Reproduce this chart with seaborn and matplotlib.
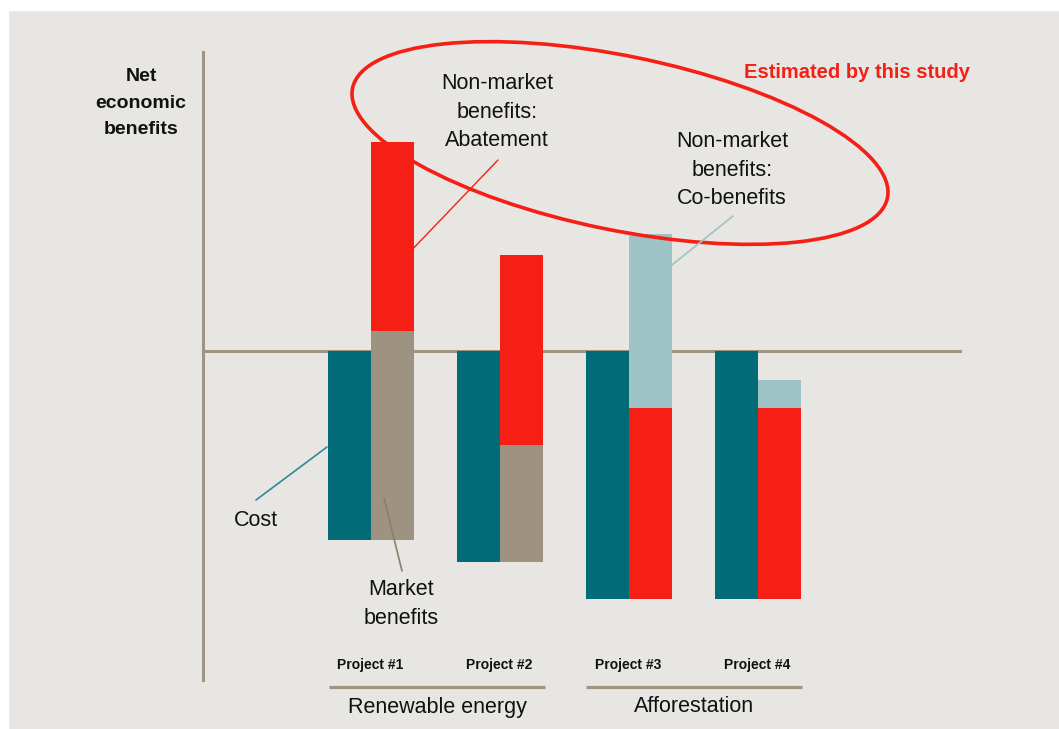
import matplotlib
matplotlib.use("Agg")
import matplotlib.pyplot as plt
from matplotlib.patches import Ellipse, Rectangle
import seaborn as sns
import numpy as np

# values in arbitrary units (1 unit ~ 100 px in the original)
projects = ["Project #1", "Project #2", "Project #3", "Project #4"]
groups = ["Renewable energy", "Afforestation"]
cost = [-1.89, -2.11, -2.48, -2.48]
market = [2.09, 1.17, 0.0, 0.0]
abatement = [1.89, 1.90, 1.91, 1.91]
co_benefits = [0.0, 0.0, 1.74, 0.28]

TEAL = "#016b78"
RED = "#f51f15"
TAUPE = "#9e9380"
LIGHTBLUE = "#9dc3c6"
BG = "#e8e6e2"
AXIS = "#a09583"

sns.set_theme(style="white", rc={"axes.facecolor": "none", "figure.facecolor": BG})
plt.rcParams["font.family"] = ["Liberation Sans", "DejaVu Sans"]

W, H = 1059, 729
fig = plt.figure(figsize=(W / 100, H / 100), dpi=100)
# white margins of the original screenshot
fig.patches.append(Rectangle((0, 0), 8 / W, 1, transform=fig.transFigure, color="white", zorder=0))
fig.patches.append(Rectangle((0, 1 - 10 / H), 1, 10 / H, transform=fig.transFigure, color="white", zorder=0))

ax = fig.add_axes([203 / W, (H - 680) / H, (962 - 203) / W, (680 - 52) / H])
x = np.arange(len(projects))
bw = 0.335

ax.axhline(0, color=AXIS, lw=2.2, zorder=0.5)
sns.barplot(x=x - bw / 2, y=cost, native_scale=True, width=bw, color=TEAL,
            saturation=1, linewidth=0, ax=ax, zorder=2)
bottom = np.array(cost)
for vals, col in [(market, TAUPE), (abatement, RED), (co_benefits, LIGHTBLUE)]:
    ax.bar(x + bw / 2, vals, width=bw, bottom=bottom, color=col, linewidth=0, zorder=2)
    bottom = bottom + np.array(vals)

ax.set_xlim(-1.302, 4.581)
ax.set_ylim(-3.29, 2.99)
ax.set_xticks([])
ax.set_yticks([])
ax.set_xlabel("")
ax.set_ylabel("")
for s in ["top", "right", "bottom"]:
    ax.spines[s].set_visible(False)
ax.spines["left"].set_color(AXIS)
ax.spines["left"].set_linewidth(2.2)

# annotation layer in pixel coordinates
ov = fig.add_axes([0, 0, 1, 1], facecolor="none")
ov.set_xlim(0, W)
ov.set_ylim(H, 0)
ov.axis("off")

ov.add_patch(Ellipse((620, 143), 546, 174, angle=11.6, fill=False, edgecolor=RED, lw=2.6))
ov.text(857, 72, "Estimated by this study", color=RED, fontsize=14.5, fontweight="bold",
        ha="center", va="center")
ov.text(141, 103, "Net\neconomic\nbenefits", fontsize=14, fontweight="bold",
        ha="center", va="center", linespacing=1.75, color="#111111")
ov.text(497, 112, "Non-market\nbenefits:\nAbatement", fontsize=15.5,
        ha="center", va="center", linespacing=1.45, color="#111111")
ov.text(732, 170, "Non-market\nbenefits:\nCo-benefits", fontsize=15.5,
        ha="center", va="center", linespacing=1.45, color="#111111")
ov.text(256, 520, "Cost", fontsize=15.5, ha="center", va="center", color="#111111")
ov.text(401, 604, "Market\nbenefits", fontsize=15.5, ha="center", va="center",
        linespacing=1.45, color="#111111")

# leader lines
ov.plot([407, 498], [255, 160], color=RED, lw=1)
ov.plot([657, 733], [277, 216], color=LIGHTBLUE, lw=1.2)
ov.plot([256, 327], [500, 447], color="#2e8a96", lw=1.2)
ov.plot([384, 402], [498, 571], color="#8a7f6d", lw=1.2)

# project labels and group brackets
for i, p in enumerate(projects):
    px = 370 + 129 * i
    ov.text(px, 665, p, fontsize=10, fontweight="bold", ha="center", va="center", color="#111111")
for j, g in enumerate(groups):
    x0 = 329 + 257 * j
    ov.plot([x0, x0 + 216], [687, 687], color=AXIS, lw=2.3, solid_capstyle="butt")
    ov.text(x0 + 108, 707, g, fontsize=15.5, ha="center", va="center", color="#111111")

fig.savefig("out.png", dpi=100)
